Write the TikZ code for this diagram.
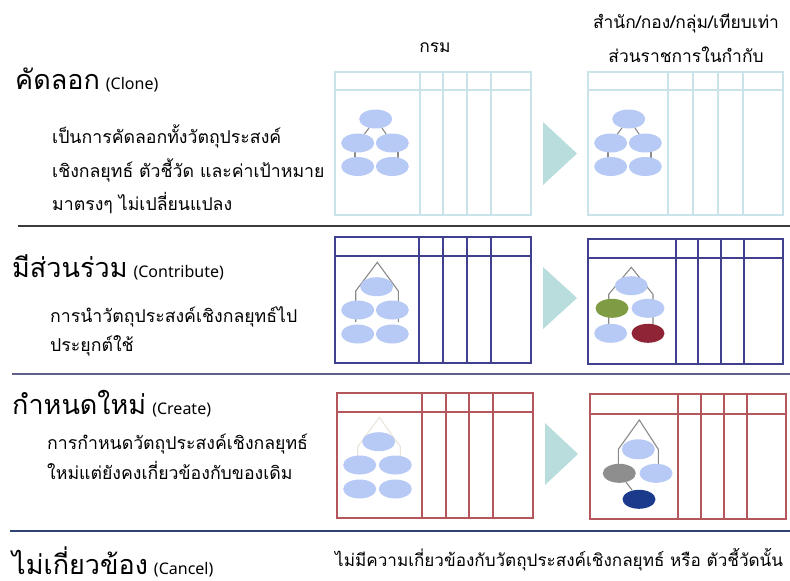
\documentclass[tikz,border=0pt]{standalone}
\usepackage{fontspec}
\usetikzlibrary{shapes.geometric}
\newfontfamily\thai[Script=Thai]{Loma}
\newfontfamily\latn{Noto Sans}
\definecolor{clonetab}{RGB}{201,227,232}
\definecolor{contribtab}{RGB}{64,64,143}
\definecolor{createtab}{RGB}{181,85,92}
\definecolor{lightell}{RGB}{183,201,245}
\definecolor{greenell}{RGB}{127,156,69}
\definecolor{redell}{RGB}{142,36,54}
\definecolor{grayell}{RGB}{142,142,142}
\definecolor{blueell}{RGB}{27,58,140}
\definecolor{arrowfill}{RGB}{185,221,221}
\definecolor{treeline}{RGB}{138,138,138}
\definecolor{faintline}{RGB}{235,229,220}
\definecolor{sepone}{RGB}{60,60,60}
\definecolor{septwo}{RGB}{95,95,140}
\definecolor{septhree}{RGB}{46,68,112}
\newcommand\tbl[9]{%
  \draw[tbline] (#1,#2) rectangle (#3,#4);
  \draw[tbline] (#1,#5) -- (#3,#5);
  \foreach \vv in {#6,#7,#8,#9}{\draw[tbline] (\vv,#2) -- (\vv,#4);}
}
\newcommand\ttl[2]{{\thai\fontsize{27}{30}\selectfont #1}\hspace{6pt}{\latn\fontsize{16}{18}\selectfont #2}}
\begin{document}
\begin{tikzpicture}[x=1pt,y=-1pt,
  ell/.style={ellipse,inner sep=0pt,minimum width=33pt,minimum height=19pt,fill=lightell},
  tline/.style={draw=treeline,line width=1.1pt},
  fline/.style={draw=faintline,line width=1.1pt},
  title/.style={anchor=west,inner sep=0pt},
  desc/.style={anchor=west,inner sep=0pt,font=\thai\fontsize{17.7}{20}\selectfont},
  head/.style={inner sep=0pt,font=\thai\fontsize{17.4}{20}\selectfont},
  sep/.style={line width=1.5pt},
  tri/.style={fill=arrowfill}]
\useasboundingbox (0,0) rectangle (790,581);
\fill[white] (0,0) rectangle (790,581);

% headers
\node[head] (hdept) at (435,48) {กรม};
\node[head] (hunit1) at (686,23) {สำนัก/กอง/กลุ่ม/เทียบเท่า};
\node[head] (hunit2) at (686,55) {ส่วนราชการในกำกับ};

% ---------- Row 1: Clone ----------
\node[title] (t1) at (15,80) {\ttl{คัดลอก}{(Clone)}};
\node[desc] (d1a) at (52,136) {เป็นการคัดลอกทั้งวัตถุประสงค์};
\node[desc] (d1b) at (52,170) {เชิงกลยุทธ์ ตัวชี้วัด และค่าเป้าหมาย};
\node[desc] (d1c) at (52,203) {มาตรงๆ ไม่เปลี่ยนแปลง};
\begin{scope}[tbline/.style={draw=clonetab,line width=1.2pt}]
  \tbl{335}{72}{531}{215}{90}{420}{443}{467}{491}
  \tbl{588}{72}{783}{215}{90}{668}{693}{718}{743}
\end{scope}
\fill[tri] (543,122) -- (577,153.5) -- (543,185) -- cycle;
% left tree
\coordinate (a1l) at (355,143); \coordinate (b1l) at (355,166);
\coordinate (a1r) at (398,143); \coordinate (b1r) at (398,166);
\draw[tline] (a1l) -- (b1l); \draw[tline] (a1r) -- (b1r);
\node[ell] (c1t) at (375.7,119) {};
\node[ell] (c1l) at (357.7,143) {};
\node[ell] (c1r) at (392.3,143) {};
\node[ell] (c1bl) at (357.7,166.5) {};
\node[ell] (c1br) at (392.3,166.5) {};
\draw[tline] (c1t) -- (c1l); \draw[tline] (c1t) -- (c1r);
% right tree
\coordinate (a2l) at (608,143); \coordinate (b2l) at (608,166);
\coordinate (a2r) at (651,143); \coordinate (b2r) at (651,166);
\draw[tline] (a2l) -- (b2l); \draw[tline] (a2r) -- (b2r);
\node[ell] (k1t) at (628.7,119) {};
\node[ell] (k1l) at (610.7,143) {};
\node[ell] (k1r) at (645.3,143) {};
\node[ell] (k1bl) at (610.7,166.5) {};
\node[ell] (k1br) at (645.3,166.5) {};
\draw[tline] (k1t) -- (k1l); \draw[tline] (k1t) -- (k1r);

\draw[sep,draw=sepone] (18,226) -- (790,226);

% ---------- Row 2: Contribute ----------
\node[title] (t2) at (12,267) {\ttl{มีส่วนร่วม}{(Contribute)}};
\node[desc] (d2a) at (50,317) {การนำวัตถุประสงค์เชิงกลยุทธ์ไป};
\node[desc] (d2b) at (50,346) {ประยุกต์ใช้};
\begin{scope}[tbline/.style={draw=contribtab,line width=1.2pt}]
  \tbl{335}{237}{531}{363}{256}{419}{443}{467}{491}
  \tbl{588}{239}{783}{364}{258}{676}{698}{721}{744}
\end{scope}
\fill[tri] (543,267) -- (577,298) -- (543,329) -- cycle;
% left tree
\coordinate (p2) at (377.3,262.3);
\coordinate (s2l) at (355.7,291); \coordinate (s2r) at (398.3,291);
\coordinate (e2l) at (355.7,322); \coordinate (e2r) at (398.3,322);
\draw[tline] (e2l) -- (s2l) -- (p2) -- (s2r) -- (e2r);
\node[ell] (c2t) at (376.7,286.7) {};
\node[ell] (c2l) at (357.7,310) {};
\node[ell] (c2r) at (392.3,310) {};
\node[ell] (c2bl) at (357.7,334) {};
\node[ell] (c2br) at (392.3,334) {};
% right tree
\coordinate (q2) at (631.3,267.3);
\coordinate (u2l) at (608.7,294.3); \coordinate (u2r) at (653,294.3);
\coordinate (f2l) at (608.7,329); \coordinate (f2r) at (653,329);
\draw[tline] (f2l) -- (u2l) -- (q2) -- (u2r) -- (f2r);
\node[ell] (k2t) at (631.3,285.7) {};
\node[ell,fill=greenell] (k2l) at (612,308.3) {};
\node[ell] (k2r) at (648,308.3) {};
\node[ell] (k2bl) at (610.7,333.3) {};
\node[ell,fill=redell] (k2br) at (648,333.3) {};

\draw[sep,draw=septwo] (12,374) -- (790,374);

% ---------- Row 3: Create ----------
\node[title] (t3) at (12,404) {\ttl{กำหนดใหม่}{(Create)}};
\node[desc] (d3a) at (47,444) {การกำหนดวัตถุประสงค์เชิงกลยุทธ์};
\node[desc] (d3b) at (47,470) {ใหม่แต่ยังคงเกี่ยวข้องกับของเดิม};
\begin{scope}[tbline/.style={draw=createtab,line width=1.2pt}]
  \tbl{337}{393}{533}{518}{412}{422}{446}{469}{493}
  \tbl{590}{394}{786}{519}{414}{678}{701}{724}{747}
\end{scope}
\fill[tri] (545,423) -- (578,454) -- (545,485) -- cycle;
% left tree (faint)
\coordinate (p3) at (379.3,417.3);
\coordinate (s3l) at (357.7,446.7); \coordinate (s3r) at (400.3,446.7);
\coordinate (e3l) at (357.7,458); \coordinate (e3r) at (400.3,458);
\draw[fline] (e3l) -- (s3l) -- (p3) -- (s3r) -- (e3r);
\node[ell] (c3t) at (378.7,441.7) {};
\node[ell] (c3l) at (359.7,465) {};
\node[ell] (c3r) at (395.3,465) {};
\node[ell] (c3bl) at (359.7,489) {};
\node[ell] (c3br) at (395.3,489) {};
% right tree
\coordinate (q3) at (639.3,420);
\coordinate (u3l) at (618.3,449.3); \coordinate (u3r) at (658.3,449.3);
\coordinate (f3l) at (618.3,467); \coordinate (f3r) at (658.3,467);
\draw[tline] (f3l) -- (u3l) -- (q3) -- (u3r) -- (f3r);
\node[ell,minimum height=20pt] (k3t) at (638.3,449.3) {};
\node[ell,fill=grayell] (k3g) at (619.3,473.3) {};
\node[ell] (k3r) at (656,473.3) {};
\node[ell,fill=blueell] (k3b) at (639,499.3) {};
\draw[tline] (k3g) -- (k3b);

\draw[sep,draw=septhree] (10,531) -- (790,531);

% ---------- Row 4: Cancel ----------
\node[title] (t4) at (12,562) {\ttl{ไม่เกี่ยวข้อง}{(Cancel)}};
\node[desc,font=\thai\fontsize{17.1}{20}\selectfont] (d4) at (335,560) {ไม่มีความเกี่ยวข้องกับวัตถุประสงค์เชิงกลยุทธ์ หรือ ตัวชี้วัดนั้น};
\end{tikzpicture}
\end{document}
